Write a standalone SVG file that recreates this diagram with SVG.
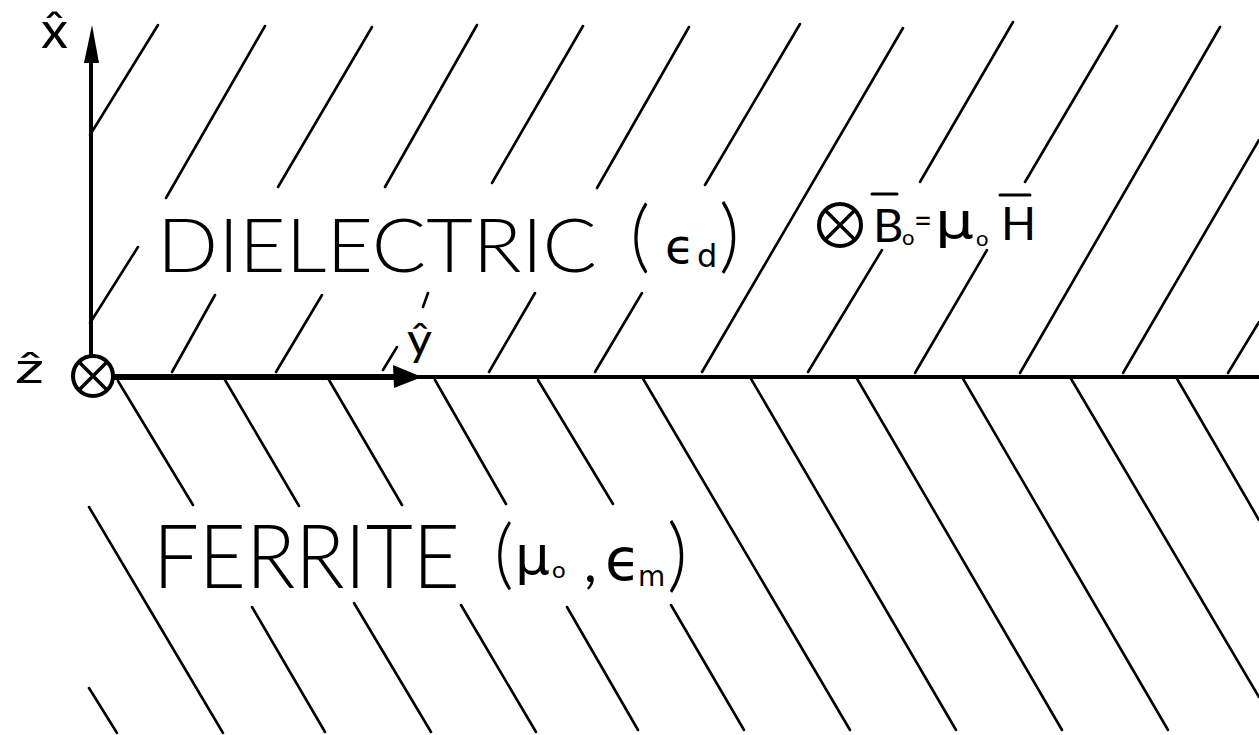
<svg xmlns="http://www.w3.org/2000/svg" width="1259" height="735" viewBox="0 0 1259 735">
<style>
.h{stroke:#000;stroke-width:2.6;stroke-linecap:round;fill:none}
.ax{stroke:#000;fill:none;stroke-linecap:round}
.t{font-family:Lato,"Liberation Sans",sans-serif;font-weight:300;fill:#000}
.l{font-family:Lato,"DejaVu Sans",sans-serif;font-weight:400;fill:#000}
.g{font-family:"DejaVu Sans","Liberation Sans",sans-serif;font-weight:400;fill:#000}
</style>
<rect width="1259" height="735" fill="#fff"/>
<g id="hatch-dielectric" class="h">
<path d="M90 135L158 25M166 198L265 26M278 187L372 27M385 187L477 25M492 183L583 26M597 188L689 27M705 185L800 24M702 372L903 28M920 182L1013 22M808 372L882 250M1025 182L1117 26M915 373L987 250M1020 373L1220 27M1123 373L1259 140M1228 373L1259 322"/>
<path d="M90 323L138 247M172 372L215 295M276 372L322 295M383 370L397 347M423 307L428 293M489 372L535 293M595 372L642 293"/>
</g>
<g id="hatch-ferrite" class="h">
<path d="M118 381L193 505M225 380L299 506M329 380L402 505M435 380L506 504M538 380L613 504M642 377L850 730M750 377L956 730M856 377L1062 730M962 377L1168 730M1070 377L1259 697M1176 377L1259 520"/>
<path d="M89 507L223 733M89 688L117 733M252 607L325 732M354 603L431 732M461 605L536 732M567 607L638 730M671 605L744 730"/>
</g>
<g id="axes">
<path class="ax" d="M91 376V55" stroke-width="4"/>
<polygon points="92,25 84,63 99,63" fill="#000"/>
<path class="ax" d="M110 377H398" stroke-width="6"/>
<path class="ax" d="M398 377H1259" stroke-width="4"/>
<polygon points="422,377 393,365 394,388" fill="#000"/>
<g id="origin">
<circle cx="93" cy="376" r="20" fill="#fff" stroke="#000" stroke-width="4"/>
<path class="ax" stroke-width="3.5" d="M80 363L106 389M106 363L80 389"/>
</g>
</g>
<g id="axis-labels">
<text class="l" x="41" y="48" font-size="50" textLength="27" lengthAdjust="spacingAndGlyphs">x&#770;</text>
<text class="l" x="15" y="383" font-size="42" textLength="29" lengthAdjust="spacingAndGlyphs">&#7825;</text>
<text class="l" x="407" y="355" font-size="44" textLength="25" lengthAdjust="spacingAndGlyphs">&#375;</text>
</g>
<g id="dielectric">
<text class="t" x="157" y="272" font-size="75" textLength="440" lengthAdjust="spacingAndGlyphs">DIELECTRIC</text>
<text class="t" x="630" y="263" font-size="78">(</text>
<text class="g" x="665" y="263" font-size="48">&#1013;<tspan x="697" y="267" font-size="32">d</tspan></text>
<text class="t" x="719" y="263" font-size="80">)</text>
</g>
<g id="field">
<circle cx="840" cy="225" r="21" fill="none" stroke="#000" stroke-width="4"/>
<path class="ax" stroke-width="3.5" d="M826 211L854 239M854 211L826 239"/>
<path class="ax" stroke-width="3" d="M872 194H897M1000 195H1030"/>
<text class="l" x="873" y="242" font-size="47">B</text>
<text class="l" x="902" y="245" font-size="22">o</text>
<text class="l" x="914" y="233" font-size="34" textLength="18" lengthAdjust="spacingAndGlyphs">=</text>
<text class="g" x="935" y="238" font-size="50" textLength="39" lengthAdjust="spacingAndGlyphs">μ</text>
<text class="l" x="976" y="246" font-size="22">o</text>
<text class="l" x="1001" y="240" font-size="46">H</text>
</g>
<g id="ferrite">
<text class="t" x="153" y="588" font-size="88" textLength="307" lengthAdjust="spacingAndGlyphs">FERRITE</text>
<text class="t" x="494" y="580" font-size="76">(</text>
<text class="g" x="515" y="574" font-size="54" textLength="35" lengthAdjust="spacingAndGlyphs">μ</text>
<text class="l" x="552" y="578" font-size="24">o</text>
<text class="l" x="584" y="582" font-size="56">,</text>
<text class="g" x="605" y="580" font-size="58">&#1013;<tspan x="638" y="586" font-size="28">m</tspan></text>
<text class="t" x="667" y="582" font-size="80">)</text>
</g>
</svg>
